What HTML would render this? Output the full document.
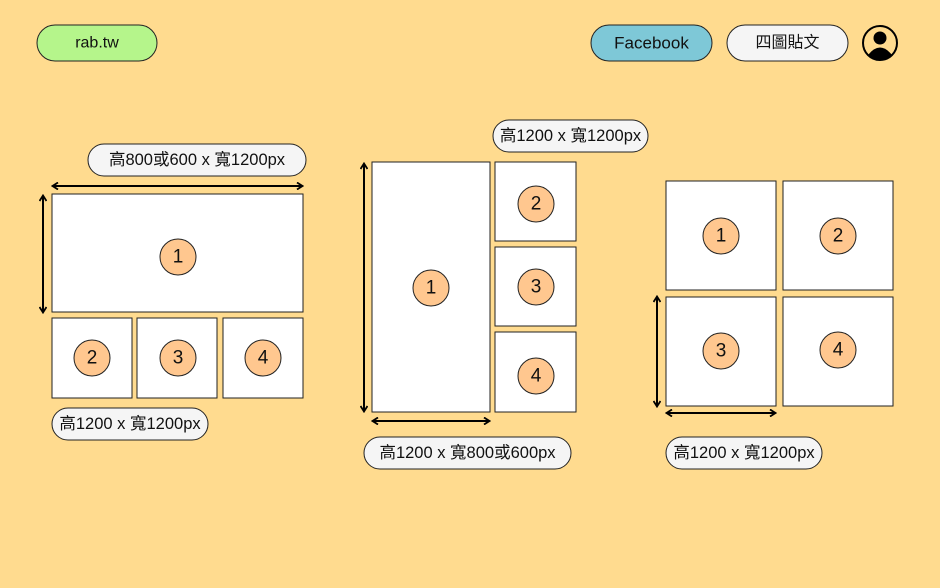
<!DOCTYPE html>
<html><head><meta charset="utf-8"><style>
html,body{margin:0;padding:0;background:#FFDB8F;}
svg{display:block}
text{font-family:"Liberation Sans","Noto Sans CJK TC",sans-serif;fill:#111;text-anchor:middle;dominant-baseline:central}
</style></head><body>
<svg width="940" height="588" viewBox="0 0 940 588" xmlns="http://www.w3.org/2000/svg">
<defs>
<marker id="a" markerWidth="8" markerHeight="8" refX="6" refY="4" orient="auto-start-reverse" markerUnits="userSpaceOnUse"><path d="M1,0.5 L6.5,4 L1,7.5" fill="none" stroke="#000" stroke-width="1.8"/></marker>
</defs>
<rect width="940" height="588" fill="#FFDB8F"/>
<rect x="37" y="25" width="120" height="36" rx="18" fill="#B5F58B" stroke="#222"/>
<text x="97" y="43" font-size="16">rab.tw</text>
<rect x="591" y="25" width="121" height="36" rx="18" fill="#7EC8D7" stroke="#222"/>
<text x="651.5" y="43" font-size="17">Facebook</text>
<rect x="727" y="25" width="121" height="36" rx="18" fill="#F5F5F5" stroke="#222"/>
<text x="787.5" y="43" font-size="16">四圖貼文</text>
<circle cx="880" cy="43" r="17" fill="#FFDB8F" stroke="#000" stroke-width="2"/>
<circle cx="880" cy="38" r="6.5" fill="#000"/>
<path d="M868,55 Q880,40 892,55 Q880,64 868,55Z" fill="#000"/>
<g stroke="#222" stroke-width="1">
<rect x="52" y="194" width="251" height="118" fill="#fff"/>
<rect x="52" y="318" width="80" height="80" fill="#fff"/>
<rect x="137" y="318" width="80" height="80" fill="#fff"/>
<rect x="223" y="318" width="80" height="80" fill="#fff"/>
<rect x="372" y="162" width="118" height="250" fill="#fff"/>
<rect x="495" y="162" width="81" height="79" fill="#fff"/>
<rect x="495" y="247" width="81" height="79" fill="#fff"/>
<rect x="495" y="332" width="81" height="80" fill="#fff"/>
<rect x="666" y="181" width="110" height="109" fill="#fff"/>
<rect x="783" y="181" width="110" height="109" fill="#fff"/>
<rect x="666" y="297" width="110" height="109" fill="#fff"/>
<rect x="783" y="297" width="110" height="109" fill="#fff"/>
</g>
<g fill="#FFC78F" stroke="#222" stroke-width="1">
<circle cx="178" cy="257" r="18"/><circle cx="92" cy="358" r="18"/><circle cx="178" cy="358" r="18"/><circle cx="263" cy="358" r="18"/>
<circle cx="431" cy="288" r="18"/><circle cx="536" cy="204" r="18"/><circle cx="536" cy="287" r="18"/><circle cx="536" cy="376" r="18"/>
<circle cx="721" cy="236" r="18"/><circle cx="838" cy="236" r="18"/><circle cx="721" cy="351" r="18"/><circle cx="838" cy="350" r="18"/>
</g>
<g font-size="19">
<text x="178" y="257">1</text><text x="92" y="358">2</text><text x="178" y="358">3</text><text x="263" y="358">4</text>
<text x="431" y="288">1</text><text x="536" y="204">2</text><text x="536" y="287">3</text><text x="536" y="376">4</text>
<text x="721" y="236">1</text><text x="838" y="236">2</text><text x="721" y="351">3</text><text x="838" y="350">4</text>
</g>
<g stroke="#000" stroke-width="2" marker-start="url(#a)" marker-end="url(#a)">
<line x1="53" y1="186" x2="302" y2="186"/>
<line x1="43" y1="196" x2="43" y2="312"/>
<line x1="364" y1="164" x2="364" y2="411"/>
<line x1="373" y1="421" x2="489" y2="421"/>
<line x1="657" y1="297" x2="657" y2="406"/>
<line x1="667" y1="413" x2="775" y2="413"/>
</g>
<g fill="#F5F5F5" stroke="#222">
<rect x="88" y="144" width="218" height="32" rx="16"/>
<rect x="52" y="408" width="156" height="32" rx="16"/>
<rect x="493" y="120" width="155" height="32" rx="16"/>
<rect x="364" y="437" width="207" height="32" rx="16"/>
<rect x="666" y="437" width="156" height="32" rx="16"/>
</g>
<g font-size="16.5">
<text x="197" y="160">高800或600 x 寬1200px</text>
<text x="130" y="424">高1200 x 寬1200px</text>
<text x="570.5" y="136">高1200 x 寬1200px</text>
<text x="467.5" y="453">高1200 x 寬800或600px</text>
<text x="744" y="453">高1200 x 寬1200px</text>
</g>
</svg>
</body></html>
